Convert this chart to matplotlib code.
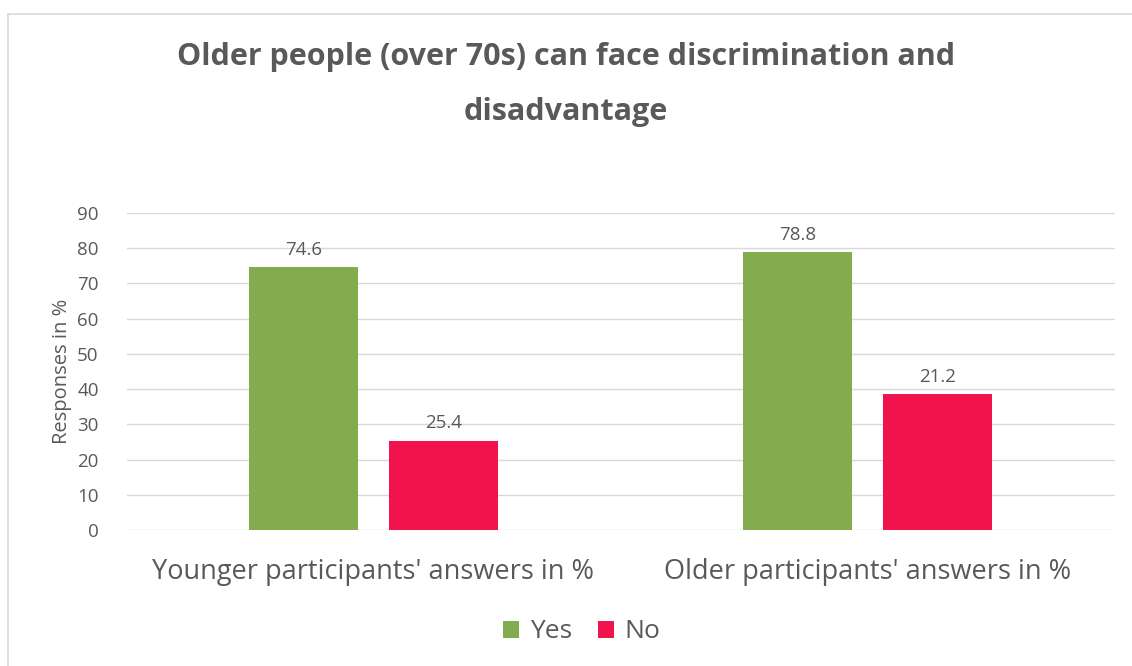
import matplotlib.pyplot as plt
import numpy as np
from matplotlib.patches import Rectangle

categories = ["Younger participants' answers in %", "Older participants' answers in %"]
yes_values = [74.6, 78.8]
no_values = [25.4, 38.6]          # bar as drawn in the picture
yes_labels = ["74.6", "78.8"]
no_labels = ["25.4", "21.2"]      # label as printed in the picture
yticks = list(range(0, 100, 10))

plt.rcParams['font.family'] = ['Open Sans', 'DejaVu Sans']
grey = '#595959'

fig = plt.figure(figsize=(11.32, 6.66), dpi=100)
fig.patches.append(Rectangle((8 / 1132, -0.1), 1.2, 1 - 14 / 666 + 0.1, transform=fig.transFigure,
                             fill=False, edgecolor='#d9d9d9', linewidth=1.2))
ax = fig.add_axes([126.5 / 1132, 1 - 530 / 666, 988 / 1132, 317 / 666])

x = np.arange(len(categories))
w = 0.222
off = 0.142
b1 = ax.bar(x - off, yes_values, w, color='#83ac4f', label='Yes', zorder=2)
b2 = ax.bar(x + off, no_values, w, color='#f0134e', label='No', zorder=2)

for bars, labs in ((b1, yes_labels), (b2, no_labels)):
    for rect, lab in zip(bars, labs):
        ax.annotate(lab, (rect.get_x() + rect.get_width() / 2, rect.get_height()),
                    xytext=(0, 6), textcoords='offset points', ha='center', va='bottom',
                    fontsize=13.5, color=grey)

ax.set_xlim(-0.5, 1.5)
ax.set_ylim(0, 90)
ax.set_yticks(yticks)
ax.set_xticks(x)
ax.set_xticklabels(categories, fontsize=19.5, color=grey)
ax.tick_params(axis='y', labelsize=13.5, labelcolor=grey, length=0, pad=20)
ax.tick_params(axis='x', length=0, pad=20)
ax.grid(axis='y', color='#d9d9d9', linewidth=1, zorder=0)
for s in ax.spines.values():
    s.set_visible(False)
ax.set_ylabel('Responses in %', fontsize=14.5, color=grey, labelpad=4)

fig.text(0.5, 1 - 57 / 666, 'Older people (over 70s) can face discrimination and', ha='center', va='center',
         fontsize=22, fontweight='bold', color=grey)
fig.text(0.5, 1 - 112 / 666, 'disadvantage', ha='center', va='center',
         fontsize=22, fontweight='bold', color=grey)

fig.legend(handles=[b1, b2], loc='center', bbox_to_anchor=(582 / 1132, 1 - 632 / 666), ncol=2, frameon=False,
           fontsize=19, labelcolor=grey, handlelength=0.6, handleheight=0.6, handletextpad=0.4,
           columnspacing=1.0)

fig.savefig('out.png', dpi=100)
